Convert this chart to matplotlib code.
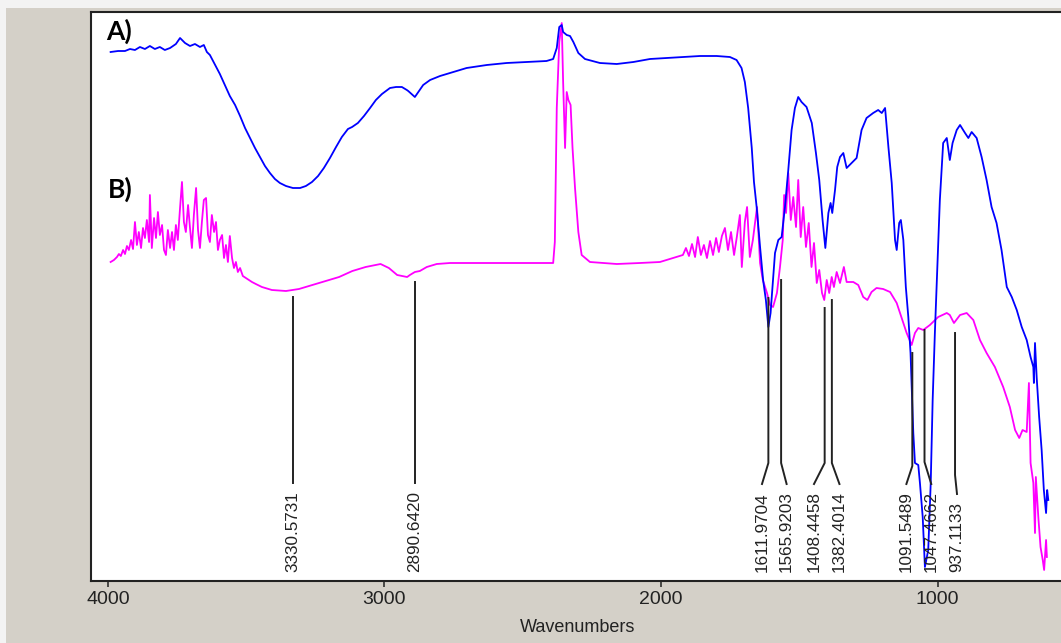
import matplotlib
matplotlib.use("Agg")
import matplotlib.pyplot as plt
from matplotlib.patches import Rectangle

plt.rcParams['font.family'] = ['Liberation Sans', 'DejaVu Sans']

# ---------------- data ----------------
# Spectrum A (blue): wavenumber (cm-1) and relative transmittance (a.u.)
blue_wn = [3990, 3963, 3938, 3920, 3902, 3884, 3866, 3848, 3830, 3812, 3794, 3775,
           3754, 3739, 3721, 3703, 3685, 3667, 3653, 3642, 3631, 3616, 3595, 3577,
           3559, 3540, 3522, 3504, 3486, 3468, 3450, 3432, 3414, 3396, 3378, 3356,
           3331, 3305, 3284, 3262, 3240, 3219, 3197, 3175, 3154, 3132, 3117, 3096,
           3074, 3052, 3031, 3009, 2980, 2958, 2937, 2919, 2914, 2890, 2860, 2835,
           2799, 2751, 2703, 2630, 2558, 2486, 2414, 2390, 2377, 2368, 2359, 2354,
           2341, 2329, 2317, 2299, 2275, 2221, 2160, 2100, 2040, 1980, 1920, 1859,
           1799, 1751, 1727, 1709, 1697, 1685, 1672, 1664, 1654, 1642, 1631, 1621,
           1612, 1604, 1597, 1588, 1576, 1564, 1552, 1540, 1528, 1516, 1504, 1492,
           1474, 1455, 1440, 1428, 1416, 1406, 1395, 1387, 1381, 1371, 1363, 1353,
           1341, 1329, 1311, 1293, 1275, 1257, 1233, 1215, 1202, 1190, 1178, 1166,
           1154, 1148, 1139, 1133, 1124, 1115, 1106, 1098, 1092, 1088, 1082, 1070,
           1064, 1054, 1046, 1034, 1025, 1018, 1010, 1001, 992, 980, 967, 956,
           946, 931, 919, 901, 889, 877, 859, 841, 823, 805, 787, 769,
           750, 732, 714, 696, 678, 664, 654, 652, 648, 642, 633, 624,
           616, 608, 604, 600]
blue_t = [529, 530, 530, 532, 531, 534, 532, 535, 532, 534, 531, 533,
          537, 543, 538, 535, 537, 534, 536, 529, 526, 518, 507, 496,
          485, 476, 465, 453, 443, 433, 424, 415, 408, 402, 398, 395,
          393, 393, 395, 399, 405, 413, 423, 434, 444, 452, 454, 458,
          465, 473, 481, 487, 493, 494, 494, 491, 490, 484, 496, 501,
          505, 509, 513, 516, 518, 519, 520, 522, 533, 554, 556, 549,
          546, 545, 539, 528, 522, 518, 517, 519, 522, 523, 524, 525,
          525, 524, 521, 513, 499, 473, 433, 399, 373, 334, 301, 281,
          254, 268, 294, 328, 341, 344, 374, 411, 451, 473, 484, 479,
          474, 458, 428, 401, 361, 333, 368, 378, 368, 391, 414, 424,
          428, 413, 418, 423, 451, 463, 468, 471, 468, 473, 434, 398,
          341, 331, 358, 361, 341, 294, 264, 228, 181, 148, 118, 116,
          98, 64, 14, 31, 98, 181, 248, 314, 381, 438, 443, 421,
          438, 451, 456, 448, 443, 449, 443, 424, 401, 374, 358, 331,
          294, 284, 271, 254, 241, 224, 214, 198, 238, 204, 164, 131,
          91, 68, 91, 81]

# Spectrum B (magenta)
mag_wn = [3990, 3978, 3967, 3960, 3953, 3945, 3938, 3931, 3924, 3916, 3909, 3902,
          3895, 3888, 3880, 3873, 3866, 3859, 3851, 3848, 3841, 3833, 3826, 3819,
          3812, 3804, 3797, 3790, 3783, 3775, 3768, 3761, 3754, 3747, 3739, 3732,
          3725, 3718, 3710, 3703, 3696, 3689, 3681, 3674, 3667, 3660, 3653, 3645,
          3638, 3631, 3624, 3616, 3609, 3602, 3595, 3587, 3580, 3573, 3566, 3559,
          3551, 3544, 3537, 3530, 3522, 3512, 3501, 3490, 3479, 3465, 3443, 3407,
          3356, 3309, 3261, 3212, 3164, 3116, 3068, 3014, 2984, 2954, 2918, 2908,
          2890, 2872, 2847, 2811, 2763, 2643, 2522, 2390, 2384, 2377, 2368, 2359,
          2354, 2347, 2341, 2335, 2327, 2320, 2311, 2299, 2287, 2257, 2160, 2076,
          2004, 1956, 1921, 1910, 1899, 1888, 1877, 1867, 1856, 1845, 1834, 1823,
          1812, 1801, 1791, 1780, 1769, 1758, 1747, 1736, 1726, 1715, 1708, 1697,
          1689, 1679, 1668, 1653, 1642, 1632, 1617, 1606, 1595, 1581, 1570, 1560,
          1555, 1548, 1540, 1531, 1522, 1512, 1504, 1495, 1486, 1476, 1466, 1456,
          1447, 1437, 1428, 1418, 1410, 1401, 1392, 1383, 1375, 1365, 1353, 1339,
          1329, 1305, 1287, 1269, 1254, 1239, 1221, 1197, 1172, 1148, 1136, 1112,
          1094, 1082, 1070, 1052, 1028, 998, 967, 956, 941, 919, 895, 871,
          847, 823, 793, 763, 739, 720, 705, 693, 678, 670, 664, 654,
          648, 645, 636, 628, 620, 615, 608, 605]
mag_t = [319, 321, 324, 327, 325, 331, 327, 335, 331, 341, 332, 359,
         336, 349, 333, 353, 343, 361, 339, 386, 333, 363, 343, 369,
         346, 356, 331, 326, 351, 333, 349, 331, 356, 341, 373, 399,
         359, 349, 376, 353, 333, 366, 393, 351, 333, 359, 381, 383,
         346, 339, 366, 349, 359, 331, 341, 346, 323, 336, 319, 345,
         323, 313, 319, 309, 313, 305, 303, 301, 299, 297, 294, 291,
         290, 292, 296, 300, 304, 310, 314, 317, 313, 306, 304, 306,
         309, 310, 314, 317, 318, 318, 318, 318, 339, 473, 539, 558,
         499, 433, 489, 481, 476, 433, 393, 349, 326, 319, 317, 318,
         319, 323, 326, 333, 325, 337, 324, 344, 326, 336, 323, 340,
         326, 343, 329, 345, 353, 331, 349, 326, 344, 366, 314, 359,
         374, 324, 341, 374, 318, 301, 288, 276, 274, 288, 314, 341,
         386, 368, 408, 361, 384, 354, 401, 344, 374, 334, 358, 314,
         338, 298, 311, 288, 281, 301, 288, 304, 294, 309, 298, 314,
         299, 299, 296, 284, 281, 289, 293, 292, 289, 278, 268, 248,
         236, 248, 253, 251, 256, 264, 268, 266, 258, 266, 268, 261,
         241, 228, 214, 194, 174, 151, 143, 151, 149, 198, 118, 98,
         48, 104, 64, 34, 21, 11, 41, 24]

# Peak annotations
peak_wn = [3330.5731, 2890.6420, 1611.9704, 1565.9203, 1408.4458,
           1382.4014, 1091.5489, 1047.4662, 937.1133]
peak_top = [284, 299, 283, 301, 273, 281, 228, 251, 248]

# layout of the leader lines / labels
knee_y = [98, 98, 118, 118, 118, 118, 115, 119, 106]
end_y = [98, 98, 97, 97, 97, 97, 97, 97, 87]
label_x = [3331, 2891, 1635, 1546, 1447, 1355, 1113, 1023, 930]

xticks = [4000, 3000, 2000, 1000]

# ---------------- figure ----------------
W, H = 1061, 643
fig = plt.figure(figsize=(W / 100, H / 100), dpi=100, facecolor='#d4d0c8')
fig.patches.append(Rectangle((0, 1 - 8 / H), 1, 8 / H, transform=fig.transFigure,
                             facecolor='#f3f3f3', edgecolor='none', zorder=-1))
fig.patches.append(Rectangle((0, 0), 6 / W, 1, transform=fig.transFigure,
                             facecolor='#f3f3f3', edgecolor='none', zorder=-1))

left_px, top_px, bottom_px = 90.7, 12.3, 581.0
ax = fig.add_axes([left_px / W, (H - bottom_px) / H, (W - left_px) / W,
                   (bottom_px - top_px) / H])
ax.set_facecolor('white')
ax.set_xlim(4062, 554)
ax.set_ylim(0, 568.7)

for side in ('top', 'left', 'bottom'):
    ax.spines[side].set_color('#222222')
    ax.spines[side].set_linewidth(1.5)
ax.spines['right'].set_visible(False)

ax.set_yticks([])
ax.set_xticks(xticks)
ax.set_xticklabels([str(t) for t in xticks])
ax.tick_params(axis='x', direction='out', length=4.5, width=1.1, pad=2.5,
               labelsize=14, color='#222222', labelcolor='#222222')

ax.plot(blue_wn, blue_t, color='#0000ff', lw=1.3, zorder=3)
ax.plot(mag_wn, mag_t, color='#ff00ff', lw=1.3, zorder=2)

for wn, top, ky, ey, lx in zip(peak_wn, peak_top, knee_y, end_y, label_x):
    ax.plot([wn, wn, lx], [top, ky, ey], color='#222222', lw=1.4, zorder=4)
    ax.text(lx, 9, f"{wn:.4f}", rotation=90, ha='center', va='bottom',
            fontsize=12.3, color='#222222')

fig.text(578 / W, 1 - 627 / H, 'Wavenumbers', ha='center', va='center',
         fontsize=13, color='#222222')

fig.text(105.7 / W, 1 - 39.8 / H, 'A)', ha='left', va='baseline',
         fontsize=19, fontweight='bold', family=['Lato', 'DejaVu Sans'])
fig.text(107.5 / W, 1 - 198 / H, 'B)', ha='left', va='baseline',
         fontsize=19, fontweight='bold', family=['Lato', 'DejaVu Sans'])

fig.savefig('out.png', dpi=100, facecolor=fig.get_facecolor())
